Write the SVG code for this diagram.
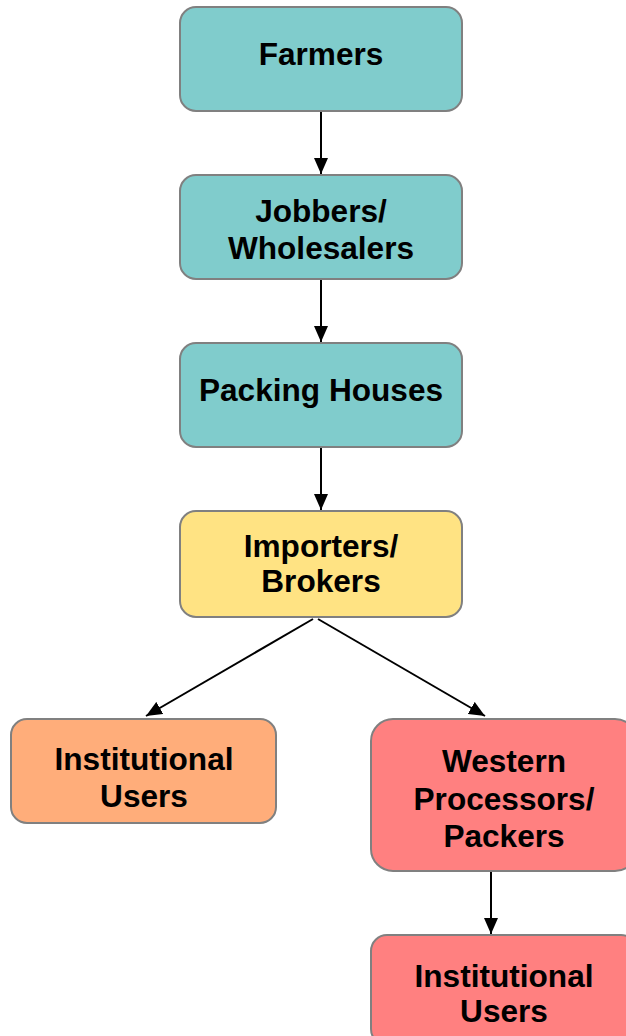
<svg xmlns="http://www.w3.org/2000/svg" width="626" height="1036" viewBox="0 0 626 1036">
<style>
.box{stroke:#808080;stroke-width:2}
.teal{fill:#80CCCC}
.yellow{fill:#FFE383}
.orange{fill:#FFAD7A}
.red{fill:#FF8080}
text{font-family:"Liberation Sans",Arial,sans-serif;font-weight:bold;font-size:31.6px;fill:#000;text-anchor:middle}
.conn line{stroke:#000;stroke-width:2;marker-end:url(#ah)}
</style>
<defs>
<marker id="ah" viewBox="0 0 16 14" refX="16" refY="7" markerWidth="16" markerHeight="14" markerUnits="userSpaceOnUse" orient="auto">
<path d="M0,0 L16,7 L0,14 Z" fill="#000"/>
</marker>
</defs>
<rect width="626" height="1036" fill="#fff"/>
<g class="conn">
<line x1="321" y1="112" x2="321" y2="174"/>
<line x1="321" y1="280" x2="321" y2="342"/>
<line x1="321" y1="448" x2="321" y2="510"/>
<line x1="313" y1="619" x2="146" y2="716"/>
<line x1="318" y1="619" x2="485" y2="716"/>
<line x1="491" y1="872" x2="491" y2="934"/>
</g>
<g id="farmers"><rect class="box teal" x="180" y="7" width="282" height="104" rx="16"/><text x="321" y="65">Farmers</text></g>
<g id="jobbers"><rect class="box teal" x="180" y="175" width="282" height="104" rx="16"/><text x="321" y="222">Jobbers/</text><text x="321" y="259">Wholesalers</text></g>
<g id="packing"><rect class="box teal" x="180" y="343" width="282" height="104" rx="16"/><text x="321" y="401">Packing Houses</text></g>
<g id="importers"><rect class="box yellow" x="180" y="511" width="282" height="106" rx="16"/><text x="321" y="557">Importers/</text><text x="321" y="592">Brokers</text></g>
<g id="inst-left"><rect class="box orange" x="11" y="719" width="265" height="104" rx="16"/><text x="144" y="770">Institutional</text><text x="144" y="807">Users</text></g>
<g id="western"><rect class="box red" x="371" y="719" width="266" height="152" rx="22"/><text x="504" y="772">Western</text><text x="504" y="810">Processors/</text><text x="504" y="847">Packers</text></g>
<g id="inst-right"><rect class="box red" x="371" y="935" width="266" height="110" rx="16"/><text x="504" y="987">Institutional</text><text x="504" y="1022">Users</text></g>
</svg>
